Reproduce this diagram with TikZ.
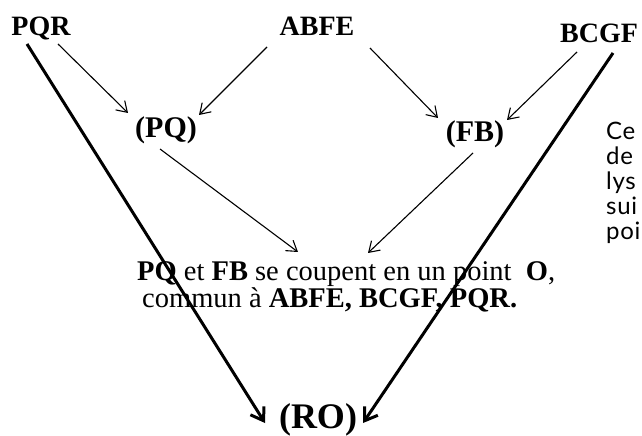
\documentclass[tikz,border=0pt]{standalone}
\usepackage{fontspec}
\setmainfont{Liberation Serif}
\newfontfamily\sidefont[LetterSpace=3]{Lato}
\usetikzlibrary{arrows.meta,calc}
\begin{document}
\begin{tikzpicture}[x=1bp,y=-1bp,
  lbl/.style={font=\fontsize{28bp}{30bp}\selectfont\bfseries, inner sep=0pt, anchor=base},
  parlbl/.style={font=\fontsize{30bp}{32bp}\selectfont\bfseries, inner sep=0pt, anchor=base},
  txt/.style={font=\fontsize{28.5bp}{30bp}\selectfont, inner sep=0pt, anchor=base west},
  side/.style={font=\fontsize{24bp}{26bp}\sidefont, inner sep=0pt, anchor=base west},
  thinarrow/.style={line width=1.1bp, -{Straight Barb[length=10bp,width=13bp]}},
  bigarrow/.style={line width=3bp, -{Straight Barb[length=12bp,width=16bp,line width=3bp]}}]
\fill[white] (0,0) rectangle (642,436);
\useasboundingbox (0,0) rectangle (642,436);

\node[lbl] (PQR) at (41,36) {PQR};
\node[lbl] (ABFE) at (317,36) {ABFE};
\node[lbl] (BCGF) at (599,43) {BCGF};
\node[parlbl] (PQ) at (166,138) {(PQ)};
\node[parlbl] (FB) at (475,142) {(FB)};
\node[txt] (L1) at (137,281) {\textbf{PQ} et \textbf{FB} se coupent en un point~~\textbf{O},};
\node[txt] (L2) at (142,308) {commun à \textbf{ABFE, BCGF, PQR.}};
\node[font=\fontsize{36bp}{38bp}\selectfont\bfseries, inner sep=0pt, anchor=base] (RO) at (318,428) {(RO)};

\node[side] (r1) at (606,140) {Ce};
\node[side] (r2) at (606,165) {de};
\node[side] (r3) at (606,190) {lys};
\node[side] (r4) at (606,215) {sui};
\node[side] (r5) at (606,240) {poi};

\draw[thinarrow] ($(PQR.base)+(17,8)$) -- ($(PQ.base)+(-38,-25)$);
\draw[thinarrow] ($(ABFE.base)+(-50,11)$) -- ($(PQ.base)+(33,-23)$);
\draw[thinarrow] ($(ABFE.base)+(53,12)$) -- ($(FB.base)+(-37,-24)$);
\draw[thinarrow] ($(BCGF.base)+(-22,9)$) -- ($(FB.base)+(32,-22)$);
\draw[thinarrow] ($(PQ.base)+(-6,11)$) -- ($(L1.base west)+(161,-29)$);
\draw[thinarrow] ($(FB.base)+(-2,11)$) -- ($(L1.base west)+(231,-28)$);

\draw[bigarrow] ($(PQR.base)+(-14,8)$) -- ($(RO.base)+(-53,-5)$);
\draw[bigarrow] ($(BCGF.base)+(14,10)$) -- ($(RO.base)+(45,-5)$);
\end{tikzpicture}
\end{document}
